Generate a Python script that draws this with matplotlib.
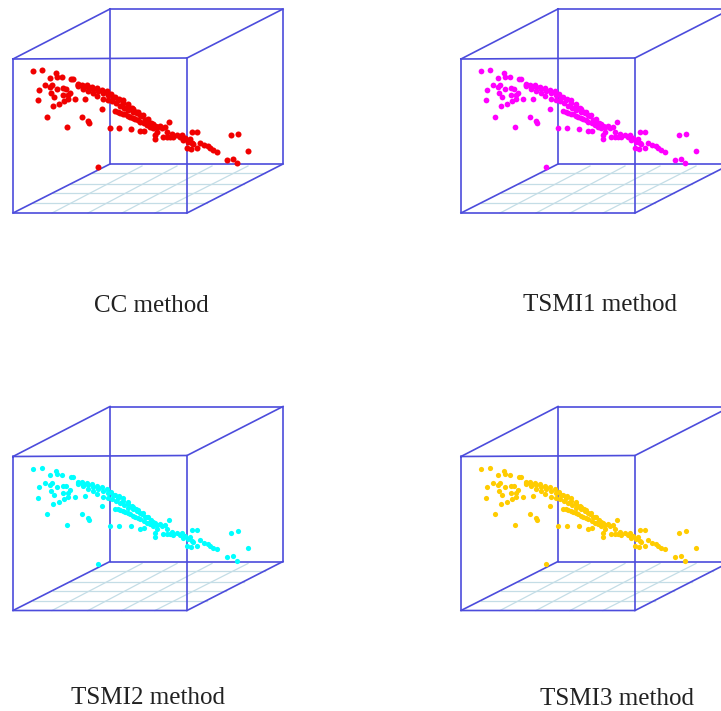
#!/usr/bin/env python3
import numpy as np
import matplotlib
matplotlib.use('Agg')
import matplotlib.pyplot as plt

# loose points (same shape in all four)
loose_x = [33.3,42,55.7,56.7,49.7,62.3,70.7,72.7,45,51.7,50,39.3,56.7,63.3,66,70,50.7,54.3,63.3,68.3,
           38.3,75,85,68.3,64,59.3,52.7,101.7,46.7,82.3,88,88.7,66.7,109.7,119,131,140,144,155.3,155,
           98,230.7,238,248,227.3,233.3,237,191.7,196.7,168.7]
loose_y = [71,70.3,73,76.7,77.7,77.3,79.3,79.3,85,85,87.3,89.7,89.3,88.3,88.7,92.7,93.3,97.3,95,95,
           100,99.3,98.7,99.3,101,104,106,108.7,116.7,116.7,120.7,122.7,127,128,128,128.7,131,130.7,139.3,135,
           166.7,135.3,133.7,150.7,159.7,158.7,163,132,132,122.3]

# thick band, upper edge, middle, lower edge
band_x = [78,82,87,92,97,102,107,111,115,119,123,128,132,136,140,145,150,154,157,
          78,83,88,93,98,103,108,113,118,123,128,133,138,143,148,153,
          78,83,88,93,97,103,108,112,116,120,124,128,133,137,142,147,151,155]
band_y = [84,84.5,85,86.5,88,89.5,91,94,97,98.5,100,104,108,111.5,115,119.5,124,126,127,
          85,86,87,89,91,93,95,97,100,103,106,109,112,115,119,124,
          86,88.5,91,93,96,99,100,101,103,105.5,107.5,110,111.5,113,116,119.5,122.5,125.5]

# second thin branch under the band
branch_x = [115,117.5,120,122.5,125,127.5,130,132.5,135,137.5,140,143.5,147,150,153]
branch_y = [111,111.8,112.7,113.5,114.3,115.5,116.7,118,119,120.3,121.7,123.3,125,126.5,128.3]

# tail towards lower right
tail_x = [156.7,161.7,166.7,171.7,176.7,181.7,185,188.3,191.7,160,165,156.7,163.3,166.7,170,173.3,180,182.7,
          186.7,190.7,196.7,190,193.3,200,204,208,210,213.3,216.7]
tail_y = [127.3,128.3,131.7,134,135,135,138.3,141.7,143.3,126,127.3,131.7,136.7,136.7,136.7,137.3,137.3,140,
          148.3,149,148.3,139.3,144,142.7,145,146,148.3,150,151.7]

px = np.array(loose_x + band_x + branch_x + tail_x)
py = np.array(loose_y + band_y + branch_y + tail_y)

panel_dx = [0, 448, 0, 448]
panel_dy = [0, 0, 397.5, 397.5]
colors = ['#f00000', '#ff00ff', '#00ffff', '#ffcc00']
sizes = [19, 17, 14, 14]

titles = ['CC method', 'TSMI1 method', 'TSMI2 method', 'TSMI3 method']
title_x = [151, 600, 148, 617]
title_y = [306, 305, 698, 699]

# box corners, pixel positions in first panel
front_x = [13, 187, 187, 13, 13]
front_y = [59, 58, 213, 213, 59]
back_x = [110, 283, 283, 110, 110]
back_y = [9, 9, 164, 164, 9]
link_x = [(13,110),(187,283),(187,283),(13,110)]
link_y = [(59,9),(58,9),(213,164),(213,164)]

# floor grid
grid_a = [(52,213,142,166),(88,213,177,166),(122,213,212,166),(155,213,248,166)]
grid_b = [(92,173,265,173),(70,184,244,184),(53,193,226,193),(33,203,207,203)]

fig = plt.figure(figsize=(7.21, 7.11), dpi=100)
ax = fig.add_axes([0, 0, 1, 1])
ax.set_xlim(0, 721)
ax.set_ylim(711, 0)
ax.axis('off')

blue = '#4c4cdc'
for i in range(4):
    dx = panel_dx[i]
    dy = panel_dy[i]
    for g in grid_a + grid_b:
        ax.plot([g[0]+dx, g[2]+dx], [g[1]+dy, g[3]+dy], color='#c4dde6', lw=0.9, zorder=1)
    ax.plot(np.array(back_x)+dx, np.array(back_y)+dy, color=blue, lw=1.2, zorder=2)
    ax.plot(np.array(front_x)+dx, np.array(front_y)+dy, color=blue, lw=1.2, zorder=2)
    for lx, ly in zip(link_x, link_y):
        ax.plot(np.array(lx)+dx, np.array(ly)+dy, color=blue, lw=1.2, zorder=2)
    ax.scatter(px+dx, py+dy, s=sizes[i], color=colors[i], lw=0, zorder=3)
    ax.text(title_x[i], title_y[i], titles[i], family='Liberation Serif', fontsize=18,
            ha='center', va='center', color='#222222')

plt.savefig('out.png', dpi=100)
